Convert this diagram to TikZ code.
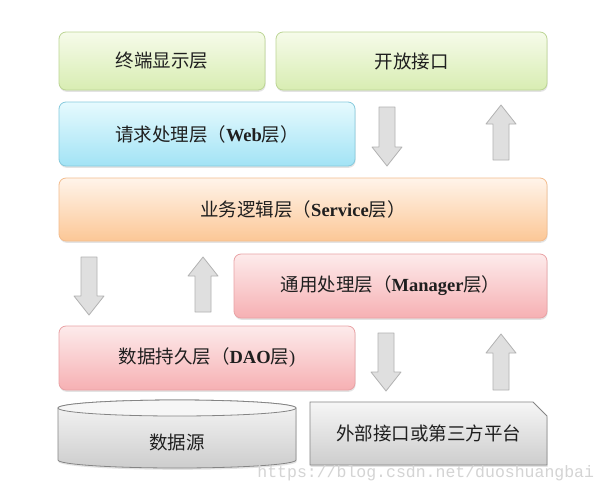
\documentclass[tikz,border=0pt]{standalone}
\usepackage{fontspec}
\setmainfont{Liberation Serif}
\newfontfamily\cjk{Noto Sans CJK SC}
\newfontfamily\wmfont{Liberation Mono}
\usetikzlibrary{shadows,shapes.misc}

\definecolor{grntop}{HTML}{F6FBEA}
\definecolor{grnbot}{HTML}{D8EDB2}
\definecolor{grnline}{HTML}{BCD594}
\definecolor{cyntop}{HTML}{E6FAFE}
\definecolor{cynbot}{HTML}{A2E3F5}
\definecolor{cynline}{HTML}{86CADD}
\definecolor{orgtop}{HTML}{FFF4EA}
\definecolor{orgbot}{HTML}{FCC796}
\definecolor{orgline}{HTML}{F3BD8E}
\definecolor{pnktop}{HTML}{FDEBEB}
\definecolor{pnkbot}{HTML}{F6B0B3}
\definecolor{pnkline}{HTML}{E9A2A5}
\definecolor{grytop}{HTML}{F6F6F6}
\definecolor{grybot}{HTML}{CDCDCD}
\definecolor{gryline}{HTML}{858585}
\definecolor{arrfill}{HTML}{DFDFDF}
\definecolor{arrline}{HTML}{B2B2B2}

\newcommand{\zh}[1]{{\cjk #1}}

\begin{document}
\begin{tikzpicture}[x=1pt,y=1pt,line width=0.8pt,
  layer/.style={draw, rounded corners=7pt, inner sep=0pt,
    font=\fontsize{18.5}{21}\selectfont, text=black!88,
    drop shadow={shadow xshift=0.6pt, shadow yshift=-1.8pt, opacity=0.22}},
  green/.style={layer, draw=grnline, top color=grntop, bottom color=grnbot},
  cyan/.style={layer, draw=cynline, top color=cyntop, bottom color=cynbot},
  orange/.style={layer, draw=orgline, top color=orgtop, bottom color=orgbot},
  pink/.style={layer, draw=pnkline, top color=pnktop, bottom color=pnkbot},
  grey/.style={layer, draw=gryline, top color=grytop, bottom color=grybot}]
\useasboundingbox[fill=white] (0,0) rectangle (609,-496);
% ---- layers ----
\node[green, minimum width=206pt, minimum height=58pt] (term) at (162,-61) {\zh{终端显示层}};
\node[green, minimum width=271pt, minimum height=58pt] (open) at (411.5,-61) {\zh{开放接口}};
\node[cyan, minimum width=296pt, minimum height=64pt] (web) at (207,-134) {\zh{请求处理层（}\textbf{Web}\zh{层）}};
\node[orange, minimum width=488pt, minimum height=63pt] (service) at (303,-209.5) {\zh{业务逻辑层（}\textbf{Service}\zh{层）}};
\node[pink, minimum width=313pt, minimum height=64pt] (manager) at (390.5,-286) {\zh{通用处理层（}\textbf{Manager}\zh{层）}};
\node[pink, minimum width=296pt, minimum height=64pt] (dao) at (207,-358) {\zh{数据持久层（}\textbf{DAO}\zh{层})};
% ---- data source: cylinder ----
\draw[gryline, top color=grytop, bottom color=grybot,
  drop shadow={shadow xshift=0.6pt, shadow yshift=-1.8pt, opacity=0.22}]
  (58,-408) -- (58,-460) arc[start angle=180, end angle=360, x radius=119, y radius=8]
  -- (296,-408) arc[start angle=0, end angle=180, x radius=119, y radius=8] -- cycle;
\draw[gryline, fill=grytop] (177,-408) ellipse[x radius=119, y radius=8];
\node[font=\fontsize{18.5}{21}\selectfont, text=black!88] (src) at (177,-442) {\zh{数据源}};
% ---- external interface ----
\node[grey, rounded corners=0pt, chamfered rectangle, chamfered rectangle corners=north east,
  chamfered rectangle xsep=8pt, chamfered rectangle ysep=6pt,
  minimum width=237pt, minimum height=63pt] (ext) at (428.5,-433.5) {\zh{外部接口或第三方平台}};
% ---- block arrows: x / tail / tip / direction ----
\foreach \x/\ya/\yb/\d in {387/-107/-166/1, 501/-160/-105/-1, 89/-257/-315/1,
                           203/-312/-257/-1, 386/-333/-391/1, 501/-390/-334/-1}{
  \pgfmathsetmacro\yh{\yb+19*\d}
  \draw[arrline, fill=arrfill, line join=round]
    ({\x-8},\ya) -- ({\x+8},\ya) -- ({\x+8},\yh) -- ({\x+15},\yh) -- (\x,\yb)
    -- ({\x-15},\yh) -- ({\x-8},\yh) -- cycle;
}
% ---- watermark ----
\node[anchor=west, inner sep=0pt, font=\wmfont\fontsize{16.5}{18}\selectfont, text=black!17] (mark) at (257,-473) {https://blog.csdn.net/duoshuangbai};
\end{tikzpicture}
\end{document}
